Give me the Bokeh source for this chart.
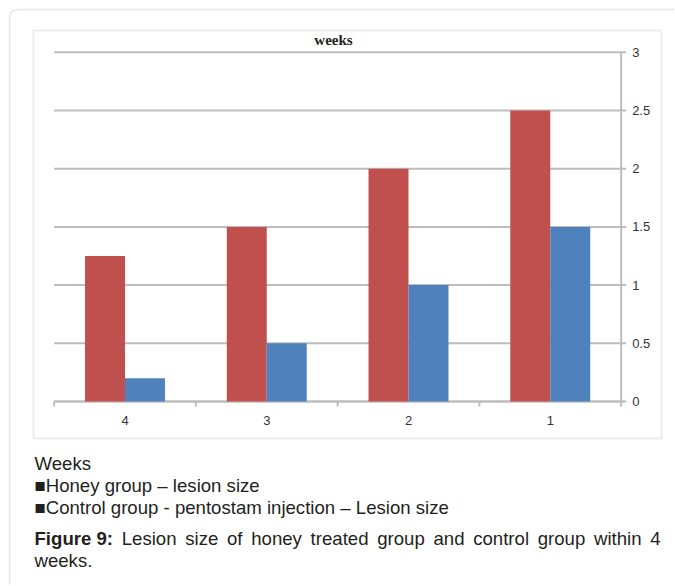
from bokeh.plotting import figure
from bokeh.models import Range1d, Label, BoxAnnotation, ColumnDataSource
from bokeh.transform import dodge
from bokeh.core.properties import value
from bokeh.embed import file_html
from bokeh.resources import INLINE

# ---- data ----
weeks = ["4", "3", "2", "1"]
honey = [1.25, 1.5, 2.0, 2.5]
control = [0.2, 0.5, 1.0, 1.5]
y_ticks = [0, 0.5, 1, 1.5, 2, 2.5, 3]
y_tick_labels = ["0", "0.5", "1", "1.5", "2", "2.5", "3"]
title_text = "weeks"
legend_title = "Weeks"
legend_items = ["\u25a0Honey group \u2013 lesion size",
                "\u25a0Control group - pentostam injection \u2013 Lesion size"]
caption_bold = "Figure 9:"
caption_words = ["Lesion", "size", "of", "honey", "treated", "group", "and",
                 "control", "group", "within", "4"]
caption_line2 = "weeks."

RED = "#c0504d"
BLUE = "#4f81bd"
GRID = "#bdbdbd"
TXT = "#231f20"

# ---- page geometry (pixels) ----
W, H = 674, 585
X0_PIX = 124.5      # pixel centre of first category
CAT_PX = 141.75     # pixels per category
Y0_PIX = 401        # pixel row of value 0
UNIT_PX = 116.4     # pixels per value unit

n = len(weeks)
pos = list(range(n))
src = ColumnDataSource(dict(pos=pos, honey=honey, control=control))

p = figure(width=W, height=H,
           x_range=Range1d(-X0_PIX / CAT_PX, (W - X0_PIX) / CAT_PX),
           y_range=Range1d((Y0_PIX - H) / UNIT_PX, Y0_PIX / UNIT_PX),
           output_backend="svg", toolbar_location=None,
           x_axis_type=None, y_axis_type=None, min_border=0)
p.outline_line_color = None
p.background_fill_color = "white"
p.border_fill_color = "white"
p.xgrid.visible = False
p.ygrid.visible = False


def dx(px):
    return px / CAT_PX


def dy(px):
    return px / UNIT_PX


def X(px):
    return (px - X0_PIX) / CAT_PX


def Y(py):
    return (Y0_PIX - py) / UNIT_PX


x_lo, x_hi = -0.5, n - 0.5

# grid lines + right-axis ticks
p.segment(x0=[x_lo] * len(y_ticks), x1=[x_hi + dx(5)] * len(y_ticks),
          y0=y_ticks, y1=y_ticks, line_color=GRID, line_width=2)
# right axis line
p.segment(x0=[x_hi], x1=[x_hi], y0=[0], y1=[max(y_ticks)], line_color=GRID,
          line_width=2)
# bottom axis line and category boundary ticks
bounds = [i - 0.5 for i in range(n + 1)]
p.segment(x0=[x_lo], x1=[x_hi + dx(3)], y0=[0], y1=[0], line_color=GRID,
          line_width=2)
p.segment(x0=bounds, x1=bounds, y0=[0] * len(bounds), y1=[-dy(5)] * len(bounds),
          line_color=GRID, line_width=2)

bw = 0.282
p.vbar(x=dodge("pos", -bw / 2, range=p.x_range), top="honey", width=bw,
       source=src, fill_color=RED, line_color=None)
p.vbar(x=dodge("pos", bw / 2, range=p.x_range), top="control", width=bw,
       source=src, fill_color=BLUE, line_color=None)

# tick labels
p.text(x=[x_hi + dx(11)] * len(y_ticks), y=y_ticks, text=y_tick_labels,
       text_font=value("Liberation Sans"), text_font_size="13px",
       text_color="#333333", text_align="left", text_baseline="middle")
p.text(x=pos, y=[-dy(19)] * n, text=weeks,
       text_font=value("Liberation Sans"), text_font_size="13px",
       text_color="#333333", text_align="center", text_baseline="middle")


def lab(text, px, py, size="18.6px", font="Liberation Sans", style="normal",
        align="left"):
    p.add_layout(Label(x=X(px), y=Y(py), text=text, text_font=font,
                       text_font_size=size, text_font_style=style,
                       text_color=TXT, text_align=align,
                       text_baseline="middle"))


lab(title_text, 333, 39, size="15px", font="Liberation Serif", style="bold",
    align="center")
lab(legend_title, 34, 463)
for i, t in enumerate(legend_items):
    lab(t, 34, 485 + 22 * i)

# justified first caption line (word start positions)
word_x = [121.2, 184.7, 226.5, 250.7, 310.1, 376.7, 433.0, 472.7, 537.2,
          593.5, 649.7]
lab(caption_bold, 34, 538, style="bold")
for w, x in zip(caption_words, word_x):
    lab(w, x, 538)
lab(caption_line2, 34, 560)

# frames
p.add_layout(BoxAnnotation(left=X(33), right=X(661), top=Y(30), bottom=Y(438),
                           fill_color=None, line_color="#c4c4c4", line_width=2))
p.add_layout(BoxAnnotation(left=X(9), right=X(760), top=Y(9), bottom=Y(760),
                           fill_color=None, line_color="#a8a8a8", line_width=1.5,
                           border_radius=8))

open("out.html", "w").write(file_html(p, INLINE))
